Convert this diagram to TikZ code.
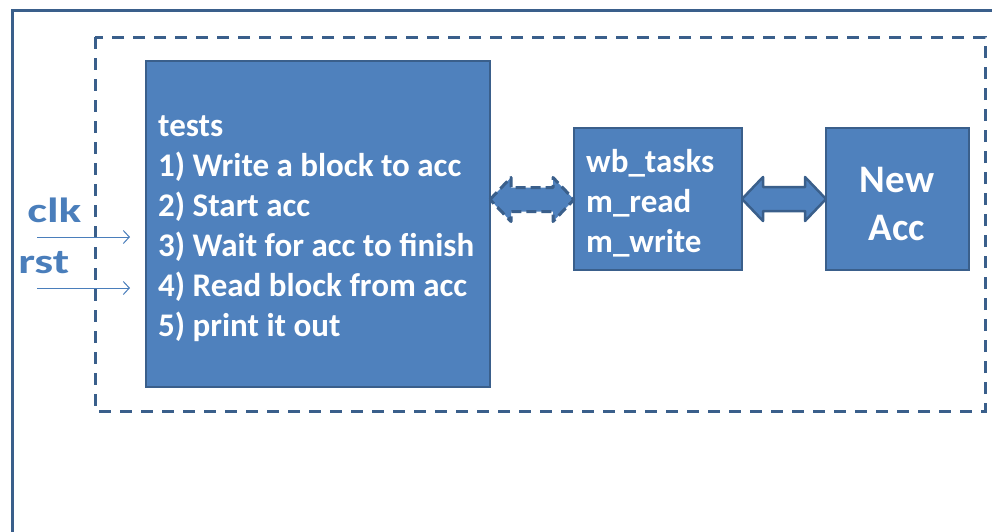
\documentclass[tikz,border=0pt]{standalone}
\usepackage{fontspec}
\setmainfont{Carlito}
\usetikzlibrary{calc,arrows.meta}
\definecolor{boxfill}{HTML}{4F81BD}
\definecolor{boxline}{HTML}{3A5F8B}
\definecolor{sigblue}{HTML}{4A7EBB}
\begin{document}
\begin{tikzpicture}[x=1pt,y=1pt,
  blockbox/.style={draw=boxline,line width=2.5pt,fill=boxfill,inner sep=0pt,outer sep=0pt},
  boxtext/.style={text=white,font=\bfseries\fontsize{33}{40}\selectfont,align=left,inner sep=0pt},
  sigtext/.style={text=sigblue,font=\bfseries\fontsize{35}{35}\selectfont,inner sep=0pt,xscale=1.35,transform shape},
  sigarrow/.style={draw=sigblue,line width=1pt,-{Straight Barb[length=6pt,width=13pt]}},
  blockarrow/.style={draw=boxline,line width=3pt,fill=boxfill,line join=round}]
\useasboundingbox (0,0) rectangle (992,-531);
% outer frame
\draw[boxline,line width=3pt] (12,-535) -- (12,-10) -- (996,-10);
% dashed frame
\draw[boxline,line width=3pt,dash pattern=on 12pt off 9pt] (95,-37) rectangle (985,-411);
% boxes
\node[blockbox,minimum width=344,minimum height=326,anchor=north west] (tests) at (146,-61) {};
\node[blockbox,minimum width=168,minimum height=142,anchor=north west] (wb) at (574,-128) {};
\node[blockbox,minimum width=143,minimum height=142,anchor=north west] (acc) at (826,-128) {};
% texts
\node[boxtext,anchor=west] (teststxt) at (158,-229) {tests\\1) Write a block to acc\\2) Start acc\\3) Wait for acc to finish\\4) Read block from acc\\5) print it out};
\node[boxtext,anchor=west] (wbtxt) at (586,-203) {wb\_tasks\\m\_read\\m\_write};
\node[boxtext,font=\bfseries\fontsize{39}{48}\selectfont,align=center] (acctxt) at (897,-204) {New\\Acc};
% block arrow 1 (dashed)
\coordinate (a1l) at ($(tests.east |- wb.west)+(0,-0.5)$);
\coordinate (a1r) at (wb.west |- a1l);
\draw[blockarrow,dash pattern=on 10pt off 5pt]
  (a1l) -- ($(a1l)+(21,22)$) -- ($(a1l)+(21,12)$) -- ($(a1r)+(-21,12)$) -- ($(a1r)+(-21,22)$)
  -- (a1r) -- ($(a1r)+(-21,-22)$) -- ($(a1r)+(-21,-12)$) -- ($(a1l)+(21,-12)$) -- ($(a1l)+(21,-22)$) -- cycle;
% block arrow 2
\coordinate (a2l) at ($(wb.east)+(0,0)$);
\coordinate (a2r) at (acc.west);
\draw[blockarrow,line width=2.5pt]
  (a2l) -- ($(a2l)+(21,22)$) -- ($(a2l)+(21,12)$) -- ($(a2r)+(-21,12)$) -- ($(a2r)+(-21,22)$)
  -- (a2r) -- ($(a2r)+(-21,-22)$) -- ($(a2r)+(-21,-12)$) -- ($(a2l)+(21,-12)$) -- ($(a2l)+(21,-22)$) -- cycle;
% signals
\node[sigtext,anchor=base west] (clk) at (27,-222) {clk};
\node[sigtext,anchor=base west] (rst) at (18,-273) {rst};
\coordinate (clks) at (37,-237);
\coordinate (clke) at (130,-237);
\coordinate (rsts) at (37,-288);
\coordinate (rste) at (130,-288);
\draw[sigarrow] (clks) -- (clke);
\draw[sigarrow] (rsts) -- (rste);
\end{tikzpicture}
\end{document}
